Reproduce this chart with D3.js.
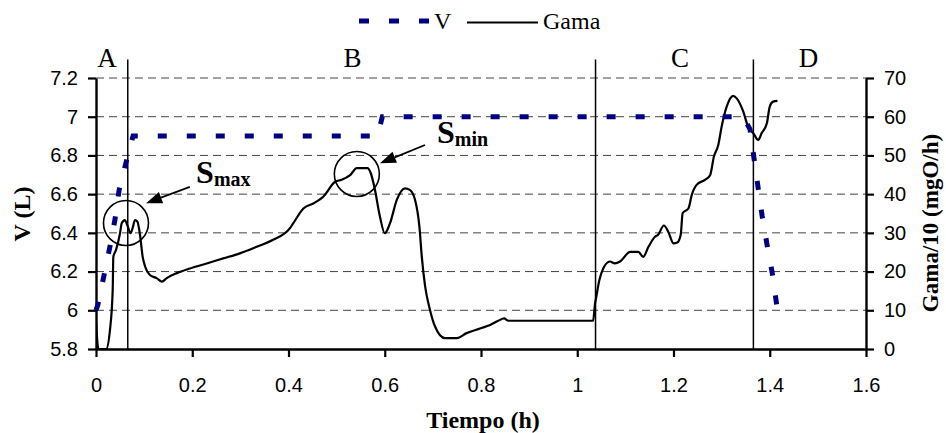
<!DOCTYPE html>
<html><head><meta charset="utf-8">
<script src="https://cdn.jsdelivr.net/npm/d3@7"></script>
<style>body{margin:0;background:#fff}svg{display:block}</style>
</head><body><svg id="c" width="946" height="433"></svg>
<script>
// ---- data ----
const tiempoTicks = [0, 0.2, 0.4, 0.6, 0.8, 1, 1.2, 1.4, 1.6];
const tiempoLabels = ["0", "0.2", "0.4", "0.6", "0.8", "1", "1.2", "1.4", "1.6"];
const vTicks = [5.8, 6, 6.2, 6.4, 6.6, 6.8, 7, 7.2];
const vLabels = ["5.8", "6", "6.2", "6.4", "6.6", "6.8", "7", "7.2"];
const gamaTicks = [0, 10, 20, 30, 40, 50, 60, 70];
const seriesNames = ["V", "Gama"];

const vTime   = [0, 0.004, 0.0166, 0.029, 0.0395, 0.048, 0.064, 0.077, 0.585, 0.595, 1.345, 1.359, 1.367, 1.376, 1.384, 1.395, 1.405, 1.416];
const vValues = [6.0, 6.03, 6.18, 6.33, 6.47, 6.62, 6.78, 6.9, 6.9, 7.0, 7.0, 6.935, 6.79, 6.63, 6.49, 6.33, 6.195, 6.0];

const gamaTime = [0, 0.005, 0.021, 0.029, 0.0347, 0.036, 0.0416, 0.0499, 0.0534, 0.06, 0.065, 0.072, 0.076, 0.081, 0.086, 0.091, 0.097, 0.102, 0.112, 0.126, 0.137, 0.147, 0.168, 0.195, 0.23, 0.2645, 0.299, 0.334, 0.368, 0.403, 0.41, 0.431, 0.4515, 0.472, 0.497, 0.5105, 0.528, 0.542, 0.564, 0.571, 0.579, 0.59, 0.6, 0.611, 0.625, 0.642, 0.652, 0.663, 0.672, 0.677, 0.684, 0.694, 0.7045, 0.725, 0.7495, 0.77, 0.798, 0.819, 0.836, 0.848, 0.857, 1.033, 1.037, 1.039, 1.046, 1.054, 1.068, 1.078, 1.089, 1.11, 1.127, 1.137, 1.148, 1.1615, 1.168, 1.18, 1.189, 1.2, 1.208, 1.215, 1.219, 1.231, 1.238, 1.248, 1.2655, 1.276, 1.284, 1.293, 1.3, 1.3105, 1.324, 1.331, 1.345, 1.355, 1.366, 1.376, 1.383, 1.394, 1.4, 1.407, 1.416];
const gamaValues = [7.5, 0, 0, 4.9, 15.2, 23.8, 25.6, 29.9, 32.5, 33.3, 32.0, 29.9, 31.2, 33.3, 32.9, 29.9, 23.8, 21.3, 19.1, 18.3, 17.4, 18.3, 19.6, 20.8, 22.1, 23.4, 24.7, 26.4, 28.2, 31.2, 32.5, 36.3, 37.6, 39.3, 43.2, 43.7, 44.9, 46.7, 46.7, 45.4, 41.5, 34.2, 29.9, 32.5, 38.5, 41.5, 41.1, 38.5, 31.6, 23.8, 16.1, 10.1, 5.8, 2.8, 2.8, 4.1, 5.3, 6.2, 7.3, 7.9, 7.3, 7.3, 11.8, 13.1, 17.8, 20.8, 22.6, 22.1, 22.6, 25.1, 25.1, 23.8, 26.4, 29.0, 29.5, 31.9, 30.3, 27.3, 27.5, 29.5, 35.1, 36.3, 39.8, 42.4, 43.7, 44.9, 49.7, 52.7, 57.4, 62.6, 65.4, 64.8, 61.3, 57.4, 55.7, 54.0, 55.7, 58.3, 62.6, 63.9, 64.1];

const phaseBounds = [0.066, 1.038, 1.366];
const phaseNames = ["A", "B", "C", "D"];
const phaseLabelT = [0.023, 0.533, 1.2135, 1.4805];

// annotations (data units: tiempo, V)
const notes = [
  {sub: "max", textT: 0.208, textV: 6.655, fromT: 0.195, fromV: 6.638, toT: 0.104, toV: 6.553, cT: 0.0623, cV: 6.451},
  {sub: "min", textT: 0.7086, textV: 6.866, fromT: 0.6836, fromV: 6.854, toT: 0.590, toV: 6.759, cT: 0.542, cV: 6.704}
];

// ---- chart ----
const svg = d3.select("#c");
const x = d3.scaleLinear().domain([0, 1.6]).range([96, 866]);
const yL = d3.scaleLinear().domain([5.8, 7.2]).range([349, 78]);
const yR = d3.scaleLinear().domain([0, 70]).range([349, 78]);
const serif = "'Liberation Serif','Times New Roman',serif";
const sans = "'Liberation Sans',Arial,sans-serif";

svg.append("defs").append("clipPath").attr("id", "clip")
  .append("rect").attr("x", 96).attr("y", 40).attr("width", 770).attr("height", 309);

// gridlines
svg.append("g").selectAll("line").data(vTicks.filter(d => d > 5.8)).join("line")
  .attr("x1", x(0)).attr("x2", x(1.6))
  .attr("y1", d => yL(d)).attr("y2", d => yL(d))
  .attr("stroke", "#444").attr("stroke-width", 1).attr("stroke-dasharray", "8,5");

// phase lines
svg.append("g").selectAll("line").data(phaseBounds).join("line")
  .attr("x1", d => x(d)).attr("x2", d => x(d))
  .attr("y1", yL(7.295)).attr("y2", yL(5.8))
  .attr("stroke", "#000").attr("stroke-width", 1.5);

svg.append("g").selectAll("text").data(phaseNames).join("text")
  .attr("x", (d, i) => x(phaseLabelT[i])).attr("y", 66.5)
  .attr("text-anchor", "middle").attr("font-family", serif).attr("font-size", 27)
  .text(d => d);

// axes
function styleAxis(g) {
  g.select(".domain").attr("stroke", "#000").attr("stroke-width", 2.4);
  g.selectAll(".tick line").attr("stroke", "#000").attr("stroke-width", 2.2);
  g.selectAll(".tick text").attr("font-family", sans).attr("font-size", 20).attr("fill", "#000");
}
svg.append("g").attr("transform", "translate(96,0)")
  .call(d3.axisLeft(yL).tickValues(vTicks).tickFormat((d, i) => vLabels[i]).tickSize(8).tickSizeOuter(0).tickPadding(10))
  .call(styleAxis);
svg.append("g").attr("transform", "translate(866,0)")
  .call(d3.axisRight(yR).tickValues(gamaTicks).tickFormat(d3.format("d")).tickSize(8).tickSizeOuter(0).tickPadding(10))
  .call(styleAxis);
svg.append("g").attr("transform", "translate(0,349)")
  .call(d3.axisBottom(x).tickValues(tiempoTicks).tickFormat((d, i) => tiempoLabels[i]).tickSize(8).tickSizeOuter(0).tickPadding(21))
  .call(styleAxis);

// series
const gamaData = gamaTime.map((t, i) => [t, gamaValues[i]]);
const vData = vTime.map((t, i) => [t, vValues[i]]);

svg.append("path").datum(gamaData)
  .attr("clip-path", "url(#clip)")
  .attr("fill", "none").attr("stroke", "#000").attr("stroke-width", 2.2).attr("stroke-linejoin", "round")
  .attr("d", d3.line().x(d => x(d[0])).y(d => yR(d[1])).curve(d3.curveMonotoneX));

svg.append("path").datum(vData)
  .attr("fill", "none").attr("stroke", "#000080").attr("stroke-width", 5)
  .attr("stroke-dasharray", "9,20")
  .attr("d", d3.line().x(d => x(d[0])).y(d => yL(d[1])));

// annotations
notes.forEach(n => {
  svg.append("circle").attr("cx", x(n.cT)).attr("cy", yL(n.cV)).attr("r", 22.5)
    .attr("fill", "none").attr("stroke", "#000").attr("stroke-width", 1.6);
  const x1 = x(n.fromT), y1 = yL(n.fromV), x2 = x(n.toT), y2 = yL(n.toV);
  const dx = x2 - x1, dy = y2 - y1, L = Math.hypot(dx, dy), ux = dx / L, uy = dy / L;
  const hl = 16, hw = 6;
  const bx = x2 - ux * hl, by = y2 - uy * hl;
  svg.append("line").attr("x1", x1).attr("y1", y1).attr("x2", bx).attr("y2", by)
    .attr("stroke", "#000").attr("stroke-width", 1.8);
  svg.append("path")
    .attr("d", `M${x2},${y2}L${bx - uy * hw},${by + ux * hw}L${bx + uy * hw},${by - ux * hw}Z`)
    .attr("fill", "#000");
  const t = svg.append("text").attr("x", x(n.textT)).attr("y", yL(n.textV))
    .attr("font-family", serif).attr("font-weight", "bold");
  t.append("tspan").attr("font-size", 32).text("S");
  t.append("tspan").attr("font-size", 20).attr("dy", 3).text(n.sub);
});

// axis titles
svg.append("text").attr("transform", "translate(30,214) rotate(-90)")
  .attr("text-anchor", "middle").attr("font-family", serif).attr("font-weight", "bold").attr("font-size", 24)
  .text("V (L)");
svg.append("text").attr("transform", "translate(938,223) rotate(-90)")
  .attr("text-anchor", "middle").attr("font-family", serif).attr("font-weight", "bold").attr("font-size", 23)
  .text("Gama/10 (mgO/h)");
svg.append("text").attr("x", 483).attr("y", 428)
  .attr("text-anchor", "middle").attr("font-family", serif).attr("font-weight", "bold").attr("font-size", 24)
  .text("Tiempo (h)");

// legend
const leg = svg.append("g");
leg.append("line").attr("x1", 359).attr("x2", 429).attr("y1", 21).attr("y2", 21)
  .attr("stroke", "#000080").attr("stroke-width", 5).attr("stroke-dasharray", "10,20");
leg.append("text").attr("x", 434).attr("y", 29).attr("font-family", serif).attr("font-size", 24).text(seriesNames[0]);
leg.append("line").attr("x1", 467).attr("x2", 538).attr("y1", 22.5).attr("y2", 22.5)
  .attr("stroke", "#000").attr("stroke-width", 2.2);
leg.append("text").attr("x", 543).attr("y", 29).attr("font-family", serif).attr("font-size", 24).text(seriesNames[1]);
</script>
</body></html>
